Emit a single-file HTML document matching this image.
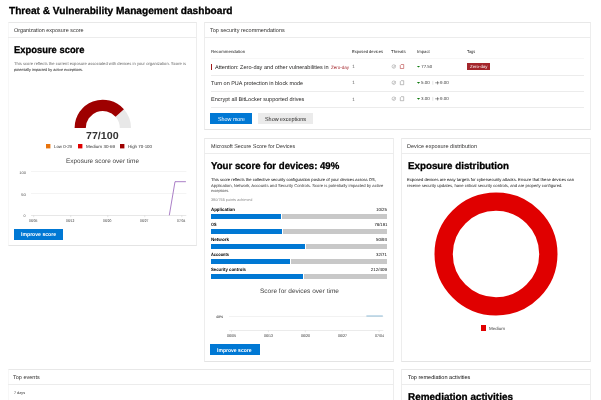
<!DOCTYPE html>
<html><head><meta charset="utf-8"><style>
html,body{margin:0;padding:0;background:#fff;width:601px;height:400px;overflow:hidden;position:relative}
body{font-family:"Liberation Sans",Arial,sans-serif;text-rendering:geometricPrecision}
.t{position:absolute;white-space:nowrap;line-height:1}
.card{position:absolute;box-sizing:border-box;border:1px solid #ededed;border-top-color:#e8e8e8;border-bottom-color:#e4e4e4;background:#fff}
.sep{position:absolute;height:1px;background:#ececec}
svg{position:absolute;left:0;top:0}
</style></head><body>
<div class="card" style="left:8px;top:22px;width:189px;height:224px;border-left-color:#f7f7f7;"></div>
<div class="sep" style="left:8px;top:37px;width:189px"></div>
<div class="card" style="left:204px;top:22px;width:387px;height:108px;"></div>
<div class="sep" style="left:204px;top:37px;width:387px"></div>
<div class="card" style="left:204px;top:138px;width:190px;height:224px;"></div>
<div class="sep" style="left:204px;top:153px;width:190px"></div>
<div style="position:absolute;left:211px;top:214.4px;width:70.00px;height:4.60px;background:#0078d4"></div>
<div style="position:absolute;left:282px;top:214.4px;width:105.00px;height:4.60px;background:#c8c8c8"></div>
<div style="position:absolute;left:211px;top:229.3px;width:71.00px;height:4.60px;background:#0078d4"></div>
<div style="position:absolute;left:283px;top:229.3px;width:104.00px;height:4.60px;background:#c8c8c8"></div>
<div style="position:absolute;left:211px;top:244.20000000000002px;width:94.00px;height:4.60px;background:#0078d4"></div>
<div style="position:absolute;left:306px;top:244.20000000000002px;width:81.00px;height:4.60px;background:#c8c8c8"></div>
<div style="position:absolute;left:211px;top:259.1px;width:79.00px;height:4.60px;background:#0078d4"></div>
<div style="position:absolute;left:291px;top:259.1px;width:96.00px;height:4.60px;background:#c8c8c8"></div>
<div style="position:absolute;left:211px;top:274.0px;width:92.00px;height:4.60px;background:#0078d4"></div>
<div style="position:absolute;left:304px;top:274.0px;width:83.00px;height:4.60px;background:#c8c8c8"></div>
<div class="card" style="left:401px;top:138px;width:190px;height:224px;"></div>
<div class="sep" style="left:401px;top:153px;width:190px"></div>
<div style="position:absolute;left:481px;top:325px;width:5.30px;height:5.70px;background:#e00000"></div>
<div class="card" style="left:8px;top:369px;width:386px;height:52px;border-left-color:#f7f7f7;"></div>
<div class="sep" style="left:8px;top:384px;width:386px"></div>
<div class="card" style="left:401px;top:369px;width:190px;height:52px;"></div>
<div class="sep" style="left:401px;top:384px;width:190px"></div>
<div style="position:absolute;left:13.5px;top:229px;width:49.50px;height:10.50px;background:#0078d4"></div>
<div style="position:absolute;left:210px;top:113.2px;width:42.20px;height:10.40px;background:#0078d4"></div>
<div style="position:absolute;left:258.2px;top:113.2px;width:54.80px;height:10.40px;background:#ebebeb"></div>
<div style="position:absolute;left:210px;top:344.4px;width:49.60px;height:10.20px;background:#0078d4"></div>
<div style="position:absolute;left:211px;top:58px;width:373.00px;height:1.00px;background:#f7f7f7"></div>
<div style="position:absolute;left:211px;top:75px;width:373.00px;height:1.00px;background:#ececec"></div>
<div style="position:absolute;left:211px;top:91px;width:373.00px;height:1.00px;background:#ececec"></div>
<div style="position:absolute;left:211px;top:107px;width:373.00px;height:1.00px;background:#ececec"></div>
<div style="position:absolute;left:211px;top:64px;width:1.00px;height:6.00px;background:#a01818"></div>
<div style="position:absolute;left:466.8px;top:62.9px;width:23.10px;height:6.70px;background:#a4262c"></div>
<svg width="601" height="400" viewBox="0 0 601 400">
<path d="M119.75,112.95 A22.6,22.6 0 0 1 125.40,127.9" fill="none" stroke="#e8e8e8" stroke-width="11.20"/>
<path d="M80.20,127.9 A22.6,22.6 0 0 1 119.75,112.95" fill="none" stroke="#9e0000" stroke-width="11.20"/>
<rect x="46" y="144" width="4.4" height="4.4" fill="#e8730c"/>
<rect x="78" y="144" width="4.4" height="4.4" fill="#e00000"/>
<rect x="120" y="144" width="4.4" height="4.4" fill="#9e0000"/>
<line x1="31" y1="171.5" x2="186.3" y2="171.5" stroke="#ececec" stroke-width="0.6"/>
<line x1="31" y1="193.5" x2="186.3" y2="193.5" stroke="#ececec" stroke-width="0.6"/>
<line x1="31" y1="215.5" x2="186.3" y2="215.5" stroke="#dcdcdc" stroke-width="0.7"/>
<line x1="33.70" y1="215.4" x2="33.70" y2="217.2" stroke="#ccc" stroke-width="0.5"/>
<line x1="70.73" y1="215.4" x2="70.73" y2="217.2" stroke="#ccc" stroke-width="0.5"/>
<line x1="107.76" y1="215.4" x2="107.76" y2="217.2" stroke="#ccc" stroke-width="0.5"/>
<line x1="144.79" y1="215.4" x2="144.79" y2="217.2" stroke="#ccc" stroke-width="0.5"/>
<line x1="181.82" y1="215.4" x2="181.82" y2="217.2" stroke="#ccc" stroke-width="0.5"/>
<polyline points="169.3,215.3 175,181.7 185.9,181.7" fill="none" stroke="#7d3aa8" stroke-width="0.65"/>
<line x1="229" y1="316.5" x2="383.3" y2="316.5" stroke="#ececec" stroke-width="0.7"/>
<line x1="229" y1="330.5" x2="383.3" y2="330.5" stroke="#e2e2e2" stroke-width="0.7"/>
<line x1="366.4" y1="316" x2="382.8" y2="316" stroke="#72a9cc" stroke-width="0.8"/>
<line x1="231.50" y1="330.5" x2="231.50" y2="332.2" stroke="#d0d0d0" stroke-width="0.5"/>
<line x1="268.40" y1="330.5" x2="268.40" y2="332.2" stroke="#d0d0d0" stroke-width="0.5"/>
<line x1="305.30" y1="330.5" x2="305.30" y2="332.2" stroke="#d0d0d0" stroke-width="0.5"/>
<line x1="342.20" y1="330.5" x2="342.20" y2="332.2" stroke="#d0d0d0" stroke-width="0.5"/>
<line x1="379.10" y1="330.5" x2="379.10" y2="332.2" stroke="#d0d0d0" stroke-width="0.5"/>
<circle cx="496" cy="254" r="52.35" fill="none" stroke="#e00000" stroke-width="18.30"/>
<path d="M416.9,65.90 L420.1,65.90 L418.5,67.60 Z" fill="#107c10"/>
<path d="M416.9,82.10 L420.1,82.10 L418.5,83.80 Z" fill="#107c10"/>
<path d="M416.9,98.10 L420.1,98.10 L418.5,99.80 Z" fill="#107c10"/>
<line x1="432.8" y1="80.90" x2="432.8" y2="84.70" stroke="#c8c8c8" stroke-width="0.5"/>
<path d="M435.2,82.80 H439.3 M437.6,81.10 V84.50" stroke="#333" stroke-width="0.5" fill="none"/>
<line x1="432.8" y1="96.90" x2="432.8" y2="100.70" stroke="#c8c8c8" stroke-width="0.5"/>
<path d="M435.2,98.80 H439.3 M437.6,97.10 V100.50" stroke="#333" stroke-width="0.5" fill="none"/>
<circle cx="393.8" cy="66.50" r="1.75" fill="none" stroke="#9a9a9a" stroke-width="0.55"/>
<path d="M393,66.60 L393.8,67.30 L395.6,65.00" fill="none" stroke="#9a9a9a" stroke-width="0.5"/>
<path d="M401.2,64.50 H403.7 V68.50 H400.3 V65.40 Z" fill="none" stroke="#b03030" stroke-width="0.55" stroke-linejoin="round"/>
<circle cx="393.8" cy="82.70" r="1.75" fill="none" stroke="#9a9a9a" stroke-width="0.55"/>
<path d="M393,82.80 L393.8,83.50 L395.6,81.20" fill="none" stroke="#9a9a9a" stroke-width="0.5"/>
<path d="M401.2,80.70 H403.7 V84.70 H400.3 V81.60 Z" fill="none" stroke="#8a8a8a" stroke-width="0.55" stroke-linejoin="round"/>
<circle cx="393.8" cy="98.70" r="1.75" fill="none" stroke="#9a9a9a" stroke-width="0.55"/>
<path d="M393,98.80 L393.8,99.50 L395.6,97.20" fill="none" stroke="#9a9a9a" stroke-width="0.5"/>
<path d="M401.2,96.70 H403.7 V100.70 H400.3 V97.60 Z" fill="none" stroke="#8a8a8a" stroke-width="0.55" stroke-linejoin="round"/>
</svg>
<div class="t" id="t0" style="left:8.50px;transform-origin:left;top:7.36px;font-size:10.2px;font-weight:700;color:#000;transform:scaleX(0.9937);-webkit-text-stroke:0.3px #000;">Threat &amp; Vulnerability Management dashboard</div>
<div class="t" id="t1" style="left:13.50px;transform-origin:left;top:29.14px;font-size:5.5px;font-weight:400;color:#323130;transform:scaleX(0.9882);">Organization exposure score</div>
<div class="t" id="t2" style="left:14.20px;transform-origin:left;top:46.30px;font-size:9.8px;font-weight:700;color:#000;transform:scaleX(0.9590);-webkit-text-stroke:0.3px #000;">Exposure score</div>
<div class="t" id="t3" style="left:13.80px;transform-origin:left;top:62.44px;font-size:4.2px;font-weight:400;color:#666;transform:scaleX(0.9892);">This score reflects the current exposure associated with devices in your organization. Score is</div>
<div class="t" id="t4" style="left:13.80px;transform-origin:left;top:67.61px;font-size:4.0px;font-weight:400;color:#111;transform:scaleX(0.9374);">potentially impacted by active exceptions.</div>
<div class="t" id="t5" style="left:86.40px;transform-origin:left;top:131.56px;font-size:10.2px;font-weight:700;color:#333;transform:scaleX(1.0458);">77/100</div>
<div class="t" id="t6" style="left:54.00px;transform-origin:left;top:144.87px;font-size:4.4px;font-weight:400;color:#333;transform:scaleX(0.9965);">Low 0-29</div>
<div class="t" id="t7" style="left:86.00px;transform-origin:left;top:144.87px;font-size:4.4px;font-weight:400;color:#333;transform:scaleX(1.0328);">Medium 30-69</div>
<div class="t" id="t8" style="left:128.00px;transform-origin:left;top:144.87px;font-size:4.4px;font-weight:400;color:#333;transform:scaleX(1.0033);">High 70-100</div>
<div class="t" id="t9" style="left:66.00px;transform-origin:left;top:158.78px;font-size:6.4px;font-weight:400;color:#444;transform:scaleX(1.0073);">Exposure score over time</div>
<div class="t" id="t10" style="right:575.00px;transform-origin:right;top:172.07px;font-size:3.7px;font-weight:400;color:#555;transform:scaleX(1.1371);">100</div>
<div class="t" id="t11" style="right:575.00px;transform-origin:right;top:193.87px;font-size:3.7px;font-weight:400;color:#555;transform:scaleX(1.2167);">50</div>
<div class="t" id="t12" style="right:575.40px;transform-origin:right;top:215.47px;font-size:3.7px;font-weight:400;color:#555;">0</div>
<div class="t" id="t13" style="left:28.95px;transform-origin:left;top:220.18px;font-size:3.8px;font-weight:400;color:#444;transform:scaleX(0.8933);">06/05</div>
<div class="t" id="t14" style="left:65.98px;transform-origin:left;top:220.18px;font-size:3.8px;font-weight:400;color:#444;transform:scaleX(0.8933);">06/12</div>
<div class="t" id="t15" style="left:103.01px;transform-origin:left;top:220.18px;font-size:3.8px;font-weight:400;color:#444;transform:scaleX(0.8933);">06/20</div>
<div class="t" id="t16" style="left:140.04px;transform-origin:left;top:220.18px;font-size:3.8px;font-weight:400;color:#444;transform:scaleX(0.8933);">06/27</div>
<div class="t" id="t17" style="left:177.07px;transform-origin:left;top:220.18px;font-size:3.8px;font-weight:400;color:#444;transform:scaleX(0.8933);">07/04</div>
<div class="t" id="t18" style="left:20.60px;transform-origin:left;top:233.23px;font-size:5.4px;font-weight:700;color:#fff;transform:scaleX(0.9523);">Improve score</div>
<div class="t" id="t19" style="left:210.30px;transform-origin:left;top:29.34px;font-size:5.5px;font-weight:400;color:#323130;transform:scaleX(1.0014);">Top security recommendations</div>
<div class="t" id="t20" style="left:210.80px;transform-origin:left;top:49.96px;font-size:4.3px;font-weight:400;color:#222;transform:scaleX(1.0152);">Recommendation</div>
<div class="t" id="t21" style="left:352.00px;transform-origin:left;top:49.96px;font-size:4.3px;font-weight:400;color:#222;transform:scaleX(0.9538);">Exposed devices</div>
<div class="t" id="t22" style="left:391.00px;transform-origin:left;top:49.96px;font-size:4.3px;font-weight:400;color:#222;transform:scaleX(1.0084);">Threats</div>
<div class="t" id="t23" style="left:417.00px;transform-origin:left;top:49.96px;font-size:4.3px;font-weight:400;color:#222;transform:scaleX(0.9918);">Impact</div>
<div class="t" id="t24" style="left:467.40px;transform-origin:left;top:49.96px;font-size:4.3px;font-weight:400;color:#222;transform:scaleX(0.9033);">Tags</div>
<div class="t" id="t25" style="left:215.30px;transform-origin:left;top:65.94px;font-size:5.5px;font-weight:400;color:#201f1e;transform:scaleX(1.0133);">Attention: Zero-day and other vulnerabilities in</div>
<div class="t" id="t26" style="left:330.70px;transform-origin:left;top:65.71px;font-size:4.6px;font-weight:400;color:#a4262c;transform:scaleX(0.9842);">Zero-day</div>
<div class="t" id="t27" style="left:211.20px;transform-origin:left;top:82.34px;font-size:5.5px;font-weight:400;color:#201f1e;transform:scaleX(0.9963);">Turn on PUA protection in block mode</div>
<div class="t" id="t28" style="left:211.20px;transform-origin:left;top:98.34px;font-size:5.5px;font-weight:400;color:#201f1e;transform:scaleX(1.0105);">Encrypt all BitLocker supported drives</div>
<div class="t" id="t29" style="left:352.20px;transform-origin:left;top:65.31px;font-size:4.6px;font-weight:400;color:#666;">1</div>
<div class="t" id="t30" style="left:352.20px;transform-origin:left;top:80.91px;font-size:4.6px;font-weight:400;color:#666;">1</div>
<div class="t" id="t31" style="left:352.20px;transform-origin:left;top:97.71px;font-size:4.6px;font-weight:400;color:#666;">1</div>
<div class="t" id="t32" style="left:421.20px;transform-origin:left;top:64.87px;font-size:4.4px;font-weight:400;color:#444;transform:scaleX(1.0000);">77.50</div>
<div class="t" id="t33" style="left:421.20px;transform-origin:left;top:81.27px;font-size:4.4px;font-weight:400;color:#444;transform:scaleX(1.0296);">5.00</div>
<div class="t" id="t34" style="left:440.00px;transform-origin:left;top:81.27px;font-size:4.4px;font-weight:400;color:#444;transform:scaleX(1.0179);">9.00</div>
<div class="t" id="t35" style="left:421.20px;transform-origin:left;top:97.27px;font-size:4.4px;font-weight:400;color:#444;transform:scaleX(1.0296);">3.00</div>
<div class="t" id="t36" style="left:440.00px;transform-origin:left;top:97.27px;font-size:4.4px;font-weight:400;color:#444;transform:scaleX(1.0179);">9.00</div>
<div class="t" id="t37" style="left:469.50px;transform-origin:left;top:64.87px;font-size:4.4px;font-weight:400;color:#fff;transform:scaleX(0.9956);">Zero-day</div>
<div class="t" id="t38" style="left:217.60px;transform-origin:left;top:118.09px;font-size:5.8px;font-weight:400;color:#fff;transform:scaleX(0.9240);">Show more</div>
<div class="t" id="t39" style="left:265.00px;transform-origin:left;top:118.09px;font-size:5.8px;font-weight:400;color:#201f1e;transform:scaleX(0.9355);">Show exceptions</div>
<div class="t" id="t40" style="left:210.80px;transform-origin:left;top:144.94px;font-size:5.5px;font-weight:400;color:#323130;transform:scaleX(0.9768);">Microsoft Secure Score for Devices</div>
<div class="t" id="t41" style="left:211.30px;transform-origin:left;top:161.90px;font-size:9.8px;font-weight:700;color:#000;transform:scaleX(0.9831);-webkit-text-stroke:0.3px #000;">Your score for devices: 49%</div>
<div class="t" id="t42" style="left:210.70px;transform-origin:left;top:178.04px;font-size:4.2px;font-weight:400;color:#000;transform:scaleX(0.9909);">This score reflects the collective security configuration posture of your devices across OS,</div>
<div class="t" id="t43" style="left:210.70px;transform-origin:left;top:183.64px;font-size:4.2px;font-weight:400;color:#333;transform:scaleX(1.0017);">Application, Network, Accounts and Security Controls. Score is potentially impacted by active</div>
<div class="t" id="t44" style="left:210.70px;transform-origin:left;top:189.01px;font-size:4.0px;font-weight:400;color:#444;transform:scaleX(0.8896);">exceptions.</div>
<div class="t" id="t45" style="left:210.70px;transform-origin:left;top:197.50px;font-size:3.9px;font-weight:400;color:#888;transform:scaleX(0.9790);">380/765 points achieved</div>
<div class="t" id="t46" style="left:211.00px;transform-origin:left;top:208.31px;font-size:4.6px;font-weight:700;color:#000;transform:scaleX(0.9594);">Application</div>
<div class="t" id="t47" style="right:214.00px;transform-origin:right;top:208.47px;font-size:4.4px;font-weight:400;color:#000;transform:scaleX(1.0000);">10/25</div>
<div class="t" id="t48" style="left:211.00px;transform-origin:left;top:223.11px;font-size:4.6px;font-weight:700;color:#000;transform:scaleX(0.8282);">OS</div>
<div class="t" id="t49" style="right:214.00px;transform-origin:right;top:223.27px;font-size:4.4px;font-weight:400;color:#000;transform:scaleX(0.9674);">78/191</div>
<div class="t" id="t50" style="left:211.00px;transform-origin:left;top:237.91px;font-size:4.6px;font-weight:700;color:#000;transform:scaleX(0.9931);">Network</div>
<div class="t" id="t51" style="right:214.00px;transform-origin:right;top:238.07px;font-size:4.4px;font-weight:400;color:#000;transform:scaleX(1.0000);">50/93</div>
<div class="t" id="t52" style="left:211.00px;transform-origin:left;top:252.71px;font-size:4.6px;font-weight:700;color:#000;transform:scaleX(0.8597);">Accounts</div>
<div class="t" id="t53" style="right:214.00px;transform-origin:right;top:252.87px;font-size:4.4px;font-weight:400;color:#000;transform:scaleX(1.0000);">32/71</div>
<div class="t" id="t54" style="left:211.00px;transform-origin:left;top:267.51px;font-size:4.6px;font-weight:700;color:#000;transform:scaleX(0.9326);">Security controls</div>
<div class="t" id="t55" style="right:214.00px;transform-origin:right;top:267.67px;font-size:4.4px;font-weight:400;color:#000;transform:scaleX(1.0079);">212/409</div>
<div class="t" id="t56" style="left:260.00px;transform-origin:left;top:288.98px;font-size:6.4px;font-weight:400;color:#444;transform:scaleX(1.0202);">Score for devices over time</div>
<div class="t" id="t57" style="left:216.00px;transform-origin:left;top:316.07px;font-size:3.7px;font-weight:400;color:#111;transform:scaleX(0.9471);">49%</div>
<div class="t" id="t58" style="left:227.00px;transform-origin:left;top:335.18px;font-size:3.8px;font-weight:400;color:#333;transform:scaleX(0.9458);">06/05</div>
<div class="t" id="t59" style="left:263.90px;transform-origin:left;top:335.18px;font-size:3.8px;font-weight:400;color:#333;transform:scaleX(0.9458);">06/13</div>
<div class="t" id="t60" style="left:300.80px;transform-origin:left;top:335.18px;font-size:3.8px;font-weight:400;color:#333;transform:scaleX(0.9458);">06/20</div>
<div class="t" id="t61" style="left:337.70px;transform-origin:left;top:335.18px;font-size:3.8px;font-weight:400;color:#333;transform:scaleX(0.9458);">06/27</div>
<div class="t" id="t62" style="left:374.60px;transform-origin:left;top:335.18px;font-size:3.8px;font-weight:400;color:#333;transform:scaleX(0.9458);">07/04</div>
<div class="t" id="t63" style="left:217.40px;transform-origin:left;top:349.03px;font-size:5.4px;font-weight:700;color:#fff;transform:scaleX(0.9387);">Improve score</div>
<div class="t" id="t64" style="left:407.00px;transform-origin:left;top:144.94px;font-size:5.5px;font-weight:400;color:#323130;transform:scaleX(1.0131);">Device exposure distribution</div>
<div class="t" id="t65" style="left:408.00px;transform-origin:left;top:161.70px;font-size:9.8px;font-weight:700;color:#000;transform:scaleX(0.9975);-webkit-text-stroke:0.3px #000;">Exposure distribution</div>
<div class="t" id="t66" style="left:407.00px;transform-origin:left;top:178.44px;font-size:4.2px;font-weight:400;color:#000;transform:scaleX(0.9965);">Exposed devices are easy targets for cybersecurity attacks. Ensure that these devices can</div>
<div class="t" id="t67" style="left:407.00px;transform-origin:left;top:184.04px;font-size:4.2px;font-weight:400;color:#222;transform:scaleX(0.9986);">receive security updates, have critical security controls, and are properly configured.</div>
<div class="t" id="t68" style="left:489.00px;transform-origin:left;top:326.87px;font-size:4.4px;font-weight:400;color:#444;transform:scaleX(1.0240);">Medium</div>
<div class="t" id="t69" style="left:13.30px;transform-origin:left;top:375.94px;font-size:5.5px;font-weight:400;color:#323130;transform:scaleX(1.0034);">Top events</div>
<div class="t" id="t70" style="left:14.00px;transform-origin:left;top:392.18px;font-size:3.8px;font-weight:400;color:#333;transform:scaleX(0.9832);">7 days</div>
<div class="t" id="t71" style="left:407.60px;transform-origin:left;top:375.94px;font-size:5.5px;font-weight:400;color:#111;transform:scaleX(1.0103);">Top remediation activities</div>
<div class="t" id="t72" style="left:408.00px;transform-origin:left;top:393.30px;font-size:9.8px;font-weight:700;color:#000;transform:scaleX(1.0150);-webkit-text-stroke:0.3px #000;">Remediation activities</div>
</body></html>
